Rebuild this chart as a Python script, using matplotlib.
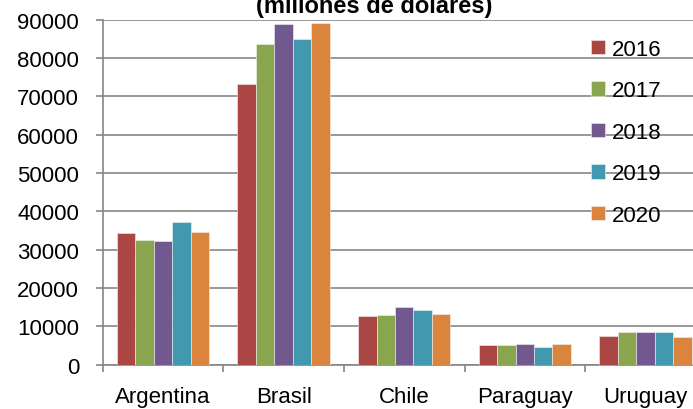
import numpy as np
import matplotlib
matplotlib.use("Agg")
import matplotlib.pyplot as plt

# data
paises = ["Argentina", "Brasil", "Chile", "Paraguay", "Uruguay"]
anios = ["2016", "2017", "2018", "2019", "2020"]
v2016 = [34400, 73200, 12600, 5050, 7550]
v2017 = [32550, 83750, 12900, 5150, 8450]
v2018 = [32200, 88900, 15000, 5500, 8450]
v2019 = [37300, 84900, 14300, 4600, 8450]
v2020 = [34550, 89150, 13250, 5300, 7250]
colores = ["#AA4643", "#89A54E", "#71588F", "#4198AF", "#DB843D"]

plt.rcParams['font.family'] = ['Liberation Sans', 'DejaVu Sans']

fig = plt.figure(figsize=(6.93, 4.10), dpi=100)
ax = fig.add_axes([102.7/693, 44.3/410, 603/693, 345/410])

x = np.arange(len(paises))
w = 0.153
series = [v2016, v2017, v2018, v2019, v2020]
for i, vals in enumerate(series):
    ax.bar(x + (i-2)*w, vals, width=w, color=colores[i], label=anios[i],
           edgecolor="#f2f2f2", linewidth=0.4, zorder=3)

ax.set_xlim(-0.5, 4.5)
ax.set_ylim(0, 90000)
ax.set_yticks(np.arange(0, 90001, 10000))
ax.set_xticks(x)
ax.set_xticklabels(paises)
ax.set_xticks(np.arange(-0.5, 4.6, 1), minor=True)
ax.tick_params(axis='x', which='major', length=0, pad=15, labelsize=16)
ax.tick_params(axis='x', which='minor', length=5, width=1.2, color="#868686")
ax.tick_params(axis='y', length=5, width=1.2, color="#868686", pad=12, labelsize=16)

ax.grid(axis='y', color="#868686", linewidth=1.2, zorder=0)
for s in ['top', 'right']:
    ax.spines[s].set_visible(False)
for s in ['left', 'bottom']:
    ax.spines[s].set_color("#868686")
    ax.spines[s].set_linewidth(1.2)

ax.legend(loc='upper left', bbox_to_anchor=(591/693, 1-40/410),
          bbox_transform=fig.transFigure, frameon=False, fontsize=16,
          handlelength=0.63, handleheight=0.63, handletextpad=0.3,
          labelspacing=0.92, borderpad=0, borderaxespad=0)

fig.text(374/693, 1-13.3/410, "(millones de dolares)", ha='center',
         va='baseline', fontsize=17, fontweight='bold')

fig.savefig("out.png", dpi=100)
